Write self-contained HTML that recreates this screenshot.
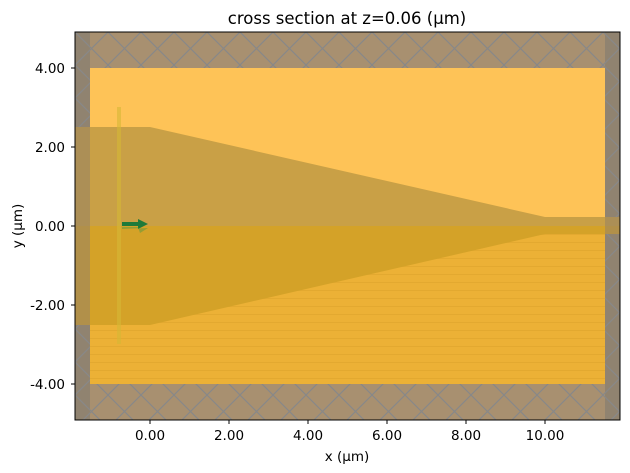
<!DOCTYPE html>
<html><head><style>body{margin:0;background:#fff}svg{display:block}</style></head><body>
<svg width="630" height="473" xmlns="http://www.w3.org/2000/svg" font-family="DejaVu Sans, Liberation Sans, sans-serif">
<defs>
<pattern id="h" width="33" height="33" patternUnits="userSpaceOnUse" x="75" y="32">
<path d="M0 0L33 33M33 0L0 33" stroke="#888" stroke-width="1.2" fill="none"/>
</pattern>
<pattern id="s" width="10" height="8" patternUnits="userSpaceOnUse" y="226">
<rect width="10" height="1" fill="#d9a22a" opacity="0.5"/>
</pattern>
<clipPath id="c"><rect x="75" y="32" width="545" height="388"/></clipPath>
</defs>
<g clip-path="url(#c)">
<rect x="75" y="32" width="545" height="388" fill="#a89070"/>
<rect x="75" y="32" width="15" height="388" fill="#8a8070" opacity="0.8"/>
<rect x="605" y="32" width="15" height="388" fill="#8a8070" opacity="0.8"/>
<rect x="75" y="32" width="545" height="388" fill="url(#h)"/>
<rect x="90" y="68" width="515" height="158" fill="#fec357"/>
<rect x="90" y="226" width="515" height="158" fill="#ecb136"/>
<rect x="90" y="226" width="515" height="158" fill="url(#s)"/>
<polygon points="75,127 150,127 545,217 620,217 620,226 75,226" fill="#c9a046"/>
<polygon points="75,226 620,226 620,234 545,234 150,325 75,325" fill="#d4a228"/>
<rect x="75" y="127" width="15" height="198" fill="#9a8460" opacity="0.6"/>
<rect x="605" y="217" width="15" height="17" fill="#9a8460" opacity="0.6"/>
<rect x="117" y="107" width="4" height="237" fill="#d6b836" opacity="0.6"/>
<polygon points="122,222 138,222 138,219 148,224 138,229 138,226 122,226" fill="#1e7a3a"/>
<polygon points="122,227 138,227 140,233 148,228 122,229" fill="#6a9a3a" opacity="0.6"/>
</g>
<rect x="75" y="32" width="545" height="388" fill="none" stroke="#000" stroke-width="1"/>
<g stroke="#000" stroke-width="1">
<line x1="71" y1="68" x2="75" y2="68"/><line x1="71" y1="147" x2="75" y2="147"/><line x1="71" y1="226" x2="75" y2="226"/><line x1="71" y1="305" x2="75" y2="305"/><line x1="71" y1="384" x2="75" y2="384"/>
<line x1="150" y1="420" x2="150" y2="424"/><line x1="229" y1="420" x2="229" y2="424"/><line x1="308" y1="420" x2="308" y2="424"/><line x1="387" y1="420" x2="387" y2="424"/><line x1="466" y1="420" x2="466" y2="424"/><line x1="545" y1="420" x2="545" y2="424"/>
</g>
<g font-size="13.5" fill="#000" text-anchor="end">
<text x="65" y="73">4.00</text><text x="65" y="152">2.00</text><text x="65" y="231">0.00</text><text x="65" y="310">-2.00</text><text x="65" y="389">-4.00</text>
</g>
<g font-size="13.5" fill="#000" text-anchor="middle">
<text x="150" y="440">0.00</text><text x="229" y="440">2.00</text><text x="308" y="440">4.00</text><text x="387" y="440">6.00</text><text x="466" y="440">8.00</text><text x="545" y="440">10.00</text>
<text x="347" y="461">x (µm)</text>
<text x="347" y="24" font-size="16.5">cross section at z=0.06 (µm)</text>
</g>
<text transform="translate(22,226) rotate(-90)" font-size="13.5" text-anchor="middle">y (µm)</text>
</svg>
</body></html>
